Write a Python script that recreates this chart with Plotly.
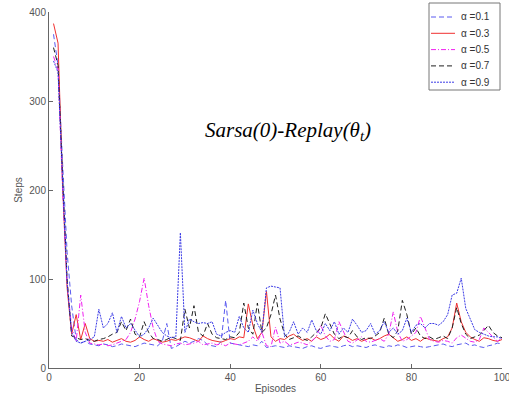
import plotly.graph_objects as go

episodes = list(range(1, 101))

alpha_labels = ["α =0.1", "α =0.3", "α =0.5", "α =0.7", "α =0.9"]

steps_a01 = [375, 340, 230, 130, 70, 32, 28, 30, 27, 26,
             25, 27, 26, 24, 25, 27, 26, 25, 24, 26,
             28, 27, 26, 25, 30, 50, 22, 24, 27, 30,
             28, 30, 33, 31, 26, 25, 24, 30, 76, 28,
             27, 26, 25, 24, 26, 25, 30, 23, 24, 25,
             24, 23, 25, 24, 23, 22, 24, 25, 23, 22,
             24, 25, 24, 23, 25, 26, 24, 25, 24, 23,
             25, 26, 24, 23, 25, 24, 26, 25, 23, 24,
             25, 24, 23, 24, 25, 26, 27, 25, 24, 26,
             27, 28, 25, 26, 24, 23, 25, 26, 28, 27]

steps_a03 = [387, 365, 205, 90, 38, 60, 32, 50, 33, 30,
             31, 30, 32, 29, 31, 33, 30, 29, 31, 35,
             32, 30, 33, 31, 29, 30, 32, 31, 33, 35,
             34, 32, 30, 36, 33, 31, 30, 29, 31, 33,
             32, 35, 34, 72, 48, 33, 40, 86, 35, 30,
             33, 32, 36, 38, 34, 31, 33, 30, 35, 32,
             34, 38, 33, 30, 36, 34, 31, 33, 30, 32,
             34, 31, 33, 36, 38, 34, 30, 32, 35, 31,
             33, 30, 34, 32, 31, 30, 33, 35, 45, 73,
             52, 40, 35, 32, 30, 34, 33, 31, 30, 32]

steps_a05 = [350, 335, 200, 95, 45, 30, 82, 40, 28, 27,
             26, 27, 25, 26, 28, 30, 32, 40, 55, 75,
             101, 70, 45, 30, 27, 26, 25, 27, 28, 26,
             27, 28, 30, 26, 27, 28, 26, 27, 25, 28,
             27, 26, 28, 30, 35, 30, 40, 25, 24, 46,
             28, 30, 26, 27, 29, 28, 26, 30, 35, 48,
             36, 30, 32, 52, 40, 30, 28, 32, 35, 30,
             29, 31, 33, 30, 38, 63, 40, 30, 32, 36,
             40, 58, 45, 32, 30, 29, 31, 30, 28, 34,
             37, 33, 30, 29, 32, 45, 40, 35, 30, 34]

steps_a07 = [360, 340, 215, 100, 36, 34, 32, 33, 31, 30,
             32, 33, 35, 38, 40, 52, 42, 55, 38, 35,
             52, 40, 33, 32, 30, 32, 35, 33, 31, 66,
             45, 70, 40, 36, 50, 38, 34, 33, 32, 35,
             34, 40, 73, 45, 38, 73, 40, 45, 60, 82,
             55, 38, 32, 34, 36, 33, 31, 35, 40, 45,
             61, 50, 38, 33, 36, 34, 42, 35, 32, 34,
             33, 36, 40, 56, 38, 34, 42, 76, 60, 38,
             45, 36, 33, 35, 32, 34, 36, 33, 45, 68,
             50, 38, 33, 35, 37, 42, 48, 40, 36, 34]

steps_a09 = [345, 332, 210, 95, 40, 30, 28, 30, 32, 35,
             66, 45, 50, 62, 40, 58, 45, 50, 42, 35,
             38, 45, 56, 48, 40, 36, 34, 35, 152, 40,
             55, 52, 50, 51, 50, 52, 38, 36, 40, 42,
             40, 58, 45, 40, 65, 50, 40, 90, 92, 91,
             90, 35, 40, 52, 38, 45, 40, 54, 42, 38,
             50, 42, 52, 38, 45, 40, 55, 48, 40, 42,
             50, 38, 42, 52, 40, 45, 38, 42, 56, 40,
             48, 50, 45, 50, 50, 48, 52, 60, 82, 84,
             101, 67, 55, 43, 40, 38, 36, 35, 35, 33]

series = [steps_a01, steps_a03, steps_a05, steps_a07, steps_a09]
colors = ["#5a5af0", "#f03030", "#f020f0", "#202020", "#3a3ae6"]
dashes = ["5px,3px", "solid", "5px,2px,1px,2px", "5px,3px", "2px,1px"]
widths = [1, 1, 1, 1, 1]

fig = go.Figure()
for name, ys, col, dsh, w in zip(alpha_labels, series, colors, dashes, widths):
    fig.add_trace(go.Scatter(
        x=episodes, y=ys, mode="lines", name=name, showlegend=False,
        line=dict(color=col, width=w, dash=dsh),
    ))

# plot-area geometry in pixels, used to place the compact legend box
L, T, W, H = 49, 12, 453, 356


def px_x(px):
    return (px - L) / W


def px_y(py):
    return (T + H - py) / H


shapes = [dict(
    type="rect", xref="paper", yref="paper",
    x0=px_x(429), x1=px_x(500), y0=px_y(90), y1=px_y(3),
    line=dict(color="#777777", width=1), fillcolor="white", layer="above",
)]
annotations = []
legend_font = dict(family="Liberation Sans, Arial, sans-serif", size=10, color="#333333")
for i, (name, col, dsh, w) in enumerate(zip(alpha_labels, colors, dashes, widths)):
    cy = 17 + i * 16.3
    shapes.append(dict(
        type="line", xref="paper", yref="paper",
        x0=px_x(431), x1=px_x(455), y0=px_y(cy), y1=px_y(cy),
        line=dict(color=col, width=w, dash=dsh), layer="above",
    ))
    annotations.append(dict(
        x=px_x(459), y=px_y(cy), xref="paper", yref="paper",
        xanchor="left", yanchor="middle", text=name, showarrow=False,
        font=legend_font,
    ))

annotations.append(dict(
    x=px_x(288), y=px_y(131), xref="paper", yref="paper",
    text="<i>Sarsa(0)-Replay(θ<sub>t</sub>)</i>",
    showarrow=False,
    font=dict(family="Liberation Serif, Times New Roman, serif", size=21, color="black"),
))

tick_font = dict(family="Liberation Sans, Arial, sans-serif", size=10, color="#555555")

fig.update_layout(
    width=509, height=400,
    margin=dict(l=L, r=509 - L - W, t=T, b=400 - T - H),
    paper_bgcolor="white", plot_bgcolor="white",
    showlegend=False,
    xaxis=dict(
        range=[0, 100], tickvals=[0, 20, 40, 60, 80, 100],
        ticks="inside", ticklen=4, tickcolor="#666666",
        showline=True, linecolor="#666666", linewidth=1,
        showgrid=False, zeroline=False, mirror=False,
        tickfont=tick_font, ticklabeloverflow="allow", automargin=False,
        title=dict(text="Episodes", font=tick_font, standoff=2),
    ),
    yaxis=dict(
        range=[0, 400], tickvals=[0, 100, 200, 300, 400],
        ticks="inside", ticklen=4, tickcolor="#666666",
        showline=True, linecolor="#666666", linewidth=1,
        showgrid=False, zeroline=False, mirror=False,
        tickfont=tick_font, automargin=False,
        title=dict(text="Steps", font=tick_font, standoff=4),
    ),
    shapes=shapes,
    annotations=annotations,
)

fig.write_html("out.html")
